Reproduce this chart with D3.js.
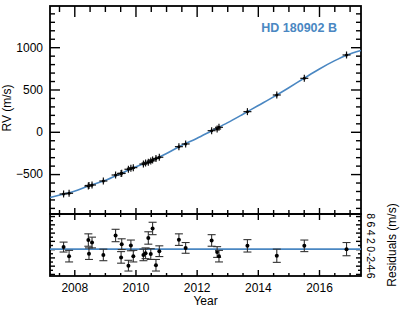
<!DOCTYPE html>
<html>
<head>
<meta charset="utf-8">
<script src="https://cdn.jsdelivr.net/npm/d3@7"></script>
<style>
  body { margin: 0; background: #fff; }
  text { font-family: "Liberation Sans", Arial, sans-serif; }
</style>
</head>
<body>
<div class="chart"></div>
<script>
const W = 415, H = 312;
const left = 50, right = 361, top1 = 6, bot1 = 214, bot2 = 276;
const blue = "#4a87c2";

// observation epochs (yr), radial velocities (m/s), residuals and errors (m/s)
const years = [2007.65, 2007.83, 2008.46, 2008.48, 2008.58, 2008.95, 2009.35, 2009.53, 2009.55,
  2009.77, 2009.85, 2009.93, 2010.26, 2010.33, 2010.42, 2010.50, 2010.56, 2010.67, 2010.78,
  2011.42, 2011.64, 2012.49, 2012.67, 2012.73, 2013.66, 2014.62, 2015.52, 2016.90];
const rv = [-735, -727, -641, -635, -629, -582, -511, -493, -491, -443, -431, -424, -381, -369,
  -361, -345, -333, -316, -301, -176, -144, 13, 33, 53, 238, 435, 632, 908];
const resid = [0.5, -1.7, 2.2, -1.1, 1.6, -1.4, 3.3, -2.0, 1.2, -4.0, 0.9, -1.7, -1.4, -1.0,
  2.7, -1.2, 5.0, -3.9, -0.5, 2.3, 0.3, 2.1, -0.7, -1.7, 0.8, -1.6, 0.8, 0.0];
const err = [1.2, 1.4, 1.5, 1.4, 1.3, 1.4, 1.5, 1.4, 1.3, 1.3, 1.3, 1.4, 1.4, 1.3, 1.5, 1.3,
  1.5, 1.4, 1.3, 1.4, 1.3, 1.4, 1.3, 1.4, 1.5, 1.6, 1.4, 1.6];

// model curve
const modelYears = [2007.21, 2007.66, 2008.0, 2008.5, 2009.0, 2009.5, 2010.0, 2010.5, 2011.0,
  2011.5, 2012.0, 2012.5, 2013.0, 2013.5, 2014.0, 2014.5, 2015.0, 2015.5, 2016.0, 2016.5,
  2016.9, 2017.37];
const modelRV = [-777, -735, -702, -636, -577, -498, -416, -345, -260, -163, -80, 13, 105, 205,
  308, 410, 518, 630, 740, 838, 905, 961];

const rvTicks = [-500, 0, 500, 1000];
const residTicks = [-6, -4, -2, 0, 2, 4, 6, 8];
const yearTicks = [2008, 2010, 2012, 2014, 2016];

const svg = d3.select(".chart").append("svg")
    .attr("width", W)
    .attr("height", H);

const x = d3.scaleLinear().domain([2007.206, 2017.373]).range([left, right]);
const y = d3.scaleLinear().domain([-972, 1487]).range([bot1, top1]);
const yr = d3.scaleLinear().domain([-6.5, 8.5]).range([bot2, bot1]);

const minorYears = d3.range(2007.5, 2017.3, 0.5).filter(d => d % 2 !== 0);
const minorRV = d3.range(-900, 1500, 100).filter(d => d % 500 !== 0);
const minorRes = d3.range(-6, 9, 1).filter(d => d % 2 !== 0);

function axis(gen, tr, size, values, labels, pad) {
    const g = svg.append("g")
        .attr("transform", tr)
        .call(gen.tickValues(values).tickSize(-size).tickPadding(pad || 3)
            .tickFormat(labels ? d3.format("d") : ""));
    g.select(".domain").remove();
    g.selectAll("line").attr("stroke", "#000").attr("stroke-width", 1.4);
    g.selectAll("text").attr("font-size", 12).attr("fill", "#000");
    return g;
}

// upper panel axes
axis(d3.axisLeft(y), `translate(${left},0)`, 10, rvTicks, true, 7);
axis(d3.axisLeft(y), `translate(${left},0)`, 5, minorRV, false);
axis(d3.axisRight(y), `translate(${right},0)`, 10, rvTicks, false);
axis(d3.axisRight(y), `translate(${right},0)`, 5, minorRV, false);
axis(d3.axisTop(x), `translate(0,${top1})`, 11, yearTicks, false);
axis(d3.axisTop(x), `translate(0,${top1})`, 6, minorYears, false);
axis(d3.axisBottom(x), `translate(0,${bot1})`, 6, yearTicks, false);
axis(d3.axisBottom(x), `translate(0,${bot1})`, 4, minorYears, false);

// lower panel axes
axis(d3.axisTop(x), `translate(0,${bot1})`, 6, yearTicks, false);
axis(d3.axisTop(x), `translate(0,${bot1})`, 3, minorYears, false);
axis(d3.axisBottom(x), `translate(0,${bot2})`, 6, yearTicks, true, 7);
axis(d3.axisBottom(x), `translate(0,${bot2})`, 3, minorYears, false);
axis(d3.axisLeft(yr), `translate(${left},0)`, 5, residTicks, false);
axis(d3.axisLeft(yr), `translate(${left},0)`, 3, minorRes, false);
axis(d3.axisRight(yr), `translate(${right},0)`, 5, residTicks, false);
axis(d3.axisRight(yr), `translate(${right},0)`, 3, minorRes, false);

// rotated residual tick labels on the right
svg.append("g").selectAll("text")
    .data(residTicks)
    .join("text")
    .attr("transform", d => `translate(371,${yr(d)}) rotate(90)`)
    .attr("text-anchor", "middle")
    .attr("dominant-baseline", "central")
    .attr("font-size", 10.5)
    .text(d => d);

// frames
[[top1, bot1], [bot1, bot2]].forEach(([t, b]) => {
    svg.append("rect")
        .attr("x", left).attr("y", t)
        .attr("width", right - left).attr("height", b - t)
        .attr("fill", "none").attr("stroke", "#000").attr("stroke-width", 1.8);
});

// model curve
const model = modelYears.map((d, i) => ({ t: d, v: modelRV[i] }));
svg.append("path")
    .datum(model)
    .attr("d", d3.line().x(d => x(d.t)).y(d => y(d.v)).curve(d3.curveMonotoneX))
    .attr("fill", "none")
    .attr("stroke", blue)
    .attr("stroke-width", 1.6);

const pts = years.map((d, i) => ({ t: d, v: rv[i], r: resid[i], e: err[i] }));

// RV points
const up = svg.append("g").selectAll("g").data(pts).join("g")
    .attr("transform", d => `translate(${x(d.t)},${y(d.v)})`);
up.append("line").attr("x1", -4).attr("x2", 4)
    .attr("stroke", "#111").attr("stroke-width", 1.2);
up.append("line").attr("y1", -3.5).attr("y2", 3.5)
    .attr("stroke", "#111").attr("stroke-width", 1.2);
up.append("circle").attr("r", 1.5).attr("fill", "#000");

// zero line
svg.append("line")
    .attr("x1", left).attr("x2", right)
    .attr("y1", yr(0)).attr("y2", yr(0))
    .attr("stroke", blue).attr("stroke-width", 1.6);

// residual points with error bars
const lo = svg.append("g").selectAll("g").data(pts).join("g");
lo.append("line")
    .attr("x1", d => x(d.t)).attr("x2", d => x(d.t))
    .attr("y1", d => yr(d.r - d.e)).attr("y2", d => yr(d.r + d.e))
    .attr("stroke", "#333").attr("stroke-width", 1.1);
[-1, 1].forEach(s => {
    lo.append("line")
        .attr("x1", d => x(d.t) - 4).attr("x2", d => x(d.t) + 4)
        .attr("y1", d => yr(d.r + s * d.e)).attr("y2", d => yr(d.r + s * d.e))
        .attr("stroke", "#333").attr("stroke-width", 1.1);
});
lo.append("circle")
    .attr("cx", d => x(d.t)).attr("cy", d => yr(d.r))
    .attr("r", 2).attr("fill", "#000");

// labels
svg.append("text")
    .attr("x", 337).attr("y", 32)
    .attr("text-anchor", "end")
    .attr("font-size", 12.5)
    .attr("font-weight", 700)
    .attr("fill", blue)
    .text("HD 180902 B");

svg.append("text")
    .attr("transform", "translate(7,108) rotate(-90)")
    .attr("text-anchor", "middle")
    .attr("dominant-baseline", "central")
    .attr("font-size", 12)
    .text("RV (m/s)");

svg.append("text")
    .attr("transform", "translate(392,245) rotate(-90)")
    .attr("text-anchor", "middle")
    .attr("dominant-baseline", "central")
    .attr("font-size", 12)
    .text("Residuals (m/s)");

svg.append("text")
    .attr("x", (left + right) / 2).attr("y", 305)
    .attr("text-anchor", "middle")
    .attr("font-size", 12)
    .text("Year");
</script>
</body>
</html>
